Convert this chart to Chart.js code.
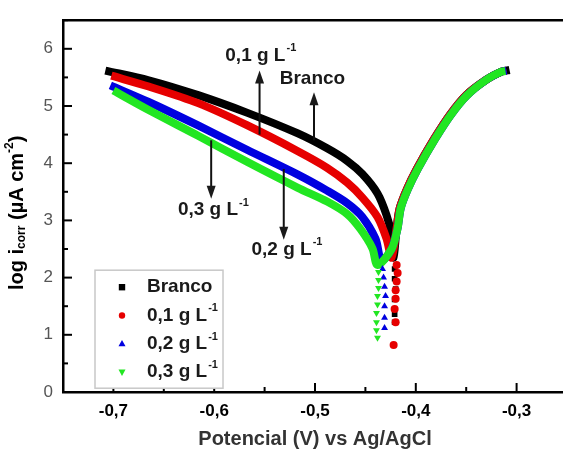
<!DOCTYPE html>
<html>
<head>
<meta charset="utf-8">
<script src="https://cdn.jsdelivr.net/npm/chart.js@4.4.0/dist/chart.umd.min.js"></script>
<style>
  html, body { margin: 0; padding: 0; background: #fff; overflow: hidden; }
  #wrap { width: 571px; height: 451px; }
</style>
</head>
<body>
<div id="wrap"><canvas id="tafel" width="571" height="451"></canvas></div>
<script>
// eixos
const xTickLabels = [-0.7, -0.6, -0.5, -0.4, -0.3];
const yTickLabels = [0, 1, 2, 3, 4, 5, 6];

// legenda
const seriesNames = ['Branco', '0,1 g L', '0,2 g L', '0,3 g L'];
const seriesSup = ['', '-1', '-1', '-1'];
const seriesColors = ['#000000', '#e60000', '#0000e0', '#22e622'];

// curvas (ramo catodico + ramo anodico)
const brancoX = [-0.708, -0.665, -0.616, -0.567, -0.517, -0.488, -0.468, -0.453, -0.438, -0.429, -0.424, -0.422,
  -0.419, -0.416, -0.409, -0.399, -0.382, -0.366, -0.350, -0.330, -0.315, -0.307];
const brancoY = [5.62, 5.45, 5.19, 4.88, 4.52, 4.26, 4.04, 3.81, 3.47, 3.09, 2.75, 2.35,
  2.87, 3.21, 3.54, 3.90, 4.42, 4.85, 5.19, 5.46, 5.60, 5.63];

const g01X = [-0.702, -0.665, -0.616, -0.567, -0.517, -0.488, -0.468, -0.453, -0.438, -0.429, -0.424,
  -0.419, -0.416, -0.409, -0.399, -0.382, -0.366, -0.350, -0.330, -0.315, -0.310];
const g01Y = [5.53, 5.34, 5.05, 4.66, 4.21, 3.92, 3.66, 3.40, 3.06, 2.68, 2.35,
  2.87, 3.21, 3.54, 3.90, 4.42, 4.85, 5.19, 5.46, 5.60, 5.62];

const g02X = [-0.703, -0.665, -0.616, -0.567, -0.517, -0.488, -0.468, -0.453, -0.440, -0.434,
  -0.424, -0.418, -0.415, -0.408, -0.398, -0.381, -0.365, -0.349, -0.330, -0.315, -0.310];
const g02Y = [5.36, 5.07, 4.66, 4.23, 3.80, 3.52, 3.30, 3.06, 2.68, 2.30,
  2.50, 2.87, 3.21, 3.54, 3.90, 4.42, 4.85, 5.19, 5.46, 5.60, 5.62];

const g03X = [-0.700, -0.665, -0.616, -0.567, -0.517, -0.488, -0.468, -0.455, -0.443, -0.438,
  -0.424, -0.418, -0.415, -0.408, -0.398, -0.381, -0.365, -0.349, -0.330, -0.315, -0.311];
const g03Y = [5.27, 4.93, 4.48, 4.02, 3.57, 3.33, 3.11, 2.85, 2.51, 2.22,
  2.50, 2.87, 3.21, 3.54, 3.90, 4.42, 4.85, 5.19, 5.46, 5.60, 5.61];

// pontos soltos perto de Ecorr
const brancoTailX = [-0.421, -0.421, -0.420, -0.421, -0.421, -0.421];
const brancoTailY = [2.15, 1.98, 1.80, 1.62, 1.36, 1.22];
const g01TailX = [-0.419, -0.418, -0.419, -0.420, -0.420, -0.421, -0.420, -0.422];
const g01TailY = [2.22, 2.08, 1.93, 1.78, 1.63, 1.45, 1.22, 0.82];
const g02TailX = [-0.433, -0.432, -0.431, -0.430, -0.431, -0.431, -0.431];
const g02TailY = [2.15, 2.00, 1.84, 1.68, 1.50, 1.30, 1.12];
const g03TailX = [-0.437, -0.437, -0.437, -0.438, -0.438, -0.439, -0.439, -0.439, -0.438];
const g03TailY = [2.10, 1.96, 1.82, 1.68, 1.53, 1.38, 1.22, 1.08, 0.95];

// textos com setas
const notes = [
  { text: '0,1 g L', sup: '-1', tx: -0.589, ty: 5.88, ax: -0.555, from: 4.50, to: 5.62 },
  { text: 'Branco', sup: '', tx: -0.535, ty: 5.48, ax: -0.501, from: 4.40, to: 5.24 },
  { text: '0,3 g L', sup: '-1', tx: -0.636, ty: 3.18, ax: -0.603, from: 4.40, to: 3.38 },
  { text: '0,2 g L', sup: '-1', tx: -0.563, ty: 2.49, ax: -0.531, from: 3.90, to: 2.66 }
];

const pts = (xs, ys) => xs.map((x, i) => ({ x, y: ys[i] }));

function lineSet(xs, ys, color, order) {
  return {
    data: pts(xs, ys),
    showLine: true,
    borderColor: color,
    borderWidth: 8,
    pointRadius: 0,
    tension: 0.3,
    fill: false,
    order
  };
}

function tailSet(xs, ys, color, style, rotation, order) {
  return {
    data: pts(xs, ys),
    showLine: false,
    pointStyle: style,
    rotation,
    pointRadius: 4,
    backgroundColor: color,
    borderColor: color,
    borderWidth: 0,
    order
  };
}

const FONT = 'Liberation Sans, Arial, sans-serif';

function drawMarker(ctx, style, x, y, r, color) {
  ctx.fillStyle = color;
  ctx.beginPath();
  if (style === 'rect') {
    ctx.rect(x - r, y - r, 2 * r, 2 * r);
  } else if (style === 'circle') {
    ctx.arc(x, y, r, 0, Math.PI * 2);
  } else if (style === 'up') {
    ctx.moveTo(x, y - r * 1.2);
    ctx.lineTo(x + r * 1.1, y + r * 0.8);
    ctx.lineTo(x - r * 1.1, y + r * 0.8);
  } else {
    ctx.moveTo(x, y + r * 1.2);
    ctx.lineTo(x + r * 1.1, y - r * 0.8);
    ctx.lineTo(x - r * 1.1, y - r * 0.8);
  }
  ctx.closePath();
  ctx.fill();
}

function drawSupText(ctx, x, y, text, sup, size) {
  ctx.font = `bold ${size}px ${FONT}`;
  ctx.textAlign = 'left';
  ctx.textBaseline = 'middle';
  ctx.fillText(text, x, y);
  if (sup) {
    const w = ctx.measureText(text).width;
    ctx.font = `bold ${Math.round(size * 0.6)}px ${FONT}`;
    ctx.fillText(sup, x + w + 1, y - size * 0.38);
  }
}

const decor = {
  id: 'decor',
  afterDraw(chart) {
    const { ctx, chartArea: ca } = chart;
    const xs = chart.scales.x, ys = chart.scales.y;
    ctx.save();

    // borda de cima
    ctx.strokeStyle = '#000';
    ctx.lineWidth = 2.5;
    ctx.beginPath();
    ctx.moveTo(ca.left, ca.top);
    ctx.lineTo(ca.right, ca.top);
    ctx.stroke();

    // marcas dos eixos (para dentro)
    ctx.lineWidth = 2;
    const xStep = xTickLabels[1] - xTickLabels[0];
    for (let v = xTickLabels[0]; v <= -0.25 + 1e-9; v += xStep / 2) {
      const major = xTickLabels.some(t => Math.abs(t - v) < 1e-6);
      const px = xs.getPixelForValue(v);
      ctx.beginPath();
      ctx.moveTo(px, ca.bottom);
      ctx.lineTo(px, ca.bottom - (major ? 9 : 5));
      ctx.stroke();
    }
    for (let v = 0.5; v <= 6.5; v += 0.5) {
      const major = Number.isInteger(v);
      const py = ys.getPixelForValue(v);
      ctx.beginPath();
      ctx.moveTo(ca.left, py);
      ctx.lineTo(ca.left + (major ? 9 : 5), py);
      ctx.stroke();
    }

    // setas e textos
    ctx.fillStyle = '#1a1a1a';
    ctx.strokeStyle = '#111';
    notes.forEach(n => {
      drawSupText(ctx, xs.getPixelForValue(n.tx), ys.getPixelForValue(n.ty), n.text, n.sup, 19);
      const ax = xs.getPixelForValue(n.ax);
      const y0 = ys.getPixelForValue(n.from);
      const y1 = ys.getPixelForValue(n.to);
      const dir = y1 < y0 ? 1 : -1;
      ctx.lineWidth = 2;
      ctx.beginPath();
      ctx.moveTo(ax, y0);
      ctx.lineTo(ax, y1 + dir * 10);
      ctx.stroke();
      ctx.beginPath();
      ctx.moveTo(ax, y1);
      ctx.lineTo(ax - 4.5, y1 + dir * 13);
      ctx.lineTo(ax + 4.5, y1 + dir * 13);
      ctx.closePath();
      ctx.fill();
    });

    // legenda
    const bx = ca.left + 32, by = ca.top + 250, bw = 128, bh = 118;
    ctx.fillStyle = '#fff';
    ctx.fillRect(bx, by, bw, bh);
    ctx.strokeStyle = '#c8c8c8';
    ctx.lineWidth = 1.5;
    ctx.strokeRect(bx, by, bw, bh);
    const styles = ['rect', 'circle', 'up', 'down'];
    seriesNames.forEach((name, i) => {
      const ly = by + 17 + i * 28.3;
      drawMarker(ctx, styles[i], bx + 27, ly, 3.2, seriesColors[i]);
      ctx.fillStyle = '#1a1a1a';
      drawSupText(ctx, bx + 52, ly, name, seriesSup[i], 19);
    });

    // titulo do eixo y
    ctx.translate(17, 290);
    ctx.rotate(-Math.PI / 2);
    ctx.fillStyle = '#000';
    ctx.textBaseline = 'middle';
    ctx.textAlign = 'left';
    let cx = 0;
    const part = (t, size, dy) => {
      ctx.font = `bold ${size}px ${FONT}`;
      ctx.fillText(t, cx, dy);
      cx += ctx.measureText(t).width;
    };
    part('log i', 20, 0);
    part('corr', 12, 5);
    part(' (\u00b5A cm', 20, 0);
    part('-2', 12, -7);
    part(')', 20, 0);

    ctx.restore();
  }
};

const fmt = v => v.toFixed(1).replace('.', ',');

new Chart(document.getElementById('tafel'), {
  type: 'scatter',
  data: {
    datasets: [
      lineSet(brancoX, brancoY, seriesColors[0], 8),
      lineSet(g01X, g01Y, seriesColors[1], 7),
      lineSet(g02X, g02Y, seriesColors[2], 6),
      lineSet(g03X, g03Y, seriesColors[3], 5),
      tailSet(brancoTailX, brancoTailY, seriesColors[0], 'rect', 0, 4),
      tailSet(g01TailX, g01TailY, seriesColors[1], 'circle', 0, 3),
      tailSet(g02TailX, g02TailY, seriesColors[2], 'triangle', 0, 2),
      tailSet(g03TailX, g03TailY, seriesColors[3], 'triangle', 180, 1)
    ]
  },
  options: {
    responsive: false,
    animation: false,
    layout: { padding: { top: 14, left: 0, right: 0, bottom: 0 } },
    plugins: {
      legend: { display: false },
      tooltip: { enabled: false }
    },
    scales: {
      x: {
        type: 'linear',
        min: -0.75,
        max: -0.25,
        grid: { display: false, drawTicks: false },
        border: { color: '#000', width: 2.5 },
        afterBuildTicks: s => { s.ticks = xTickLabels.map(v => ({ value: v })); },
        afterFit: s => { s.height = 59; },
        ticks: {
          color: '#000',
          padding: 9,
          maxRotation: 0,
          font: { family: FONT, size: 17, weight: 'bold' },
          callback: v => fmt(v)
        },
        title: {
          display: true,
          text: 'Potencial (V) vs Ag/AgCl',
          color: '#333',
          padding: { top: 0, bottom: 0 },
          font: { family: FONT, size: 20, weight: 'bold' }
        }
      },
      y: {
        min: 0,
        max: 6.5,
        grid: { display: false, drawTicks: false },
        border: { color: '#000', width: 2.5 },
        afterBuildTicks: s => { s.ticks = yTickLabels.map(v => ({ value: v })); },
        afterFit: s => { s.width = 63; },
        ticks: {
          color: '#555',
          padding: 10,
          font: { family: FONT, size: 17 },
          callback: v => String(v)
        }
      }
    }
  },
  plugins: [decor]
});
</script>
</body>
</html>
